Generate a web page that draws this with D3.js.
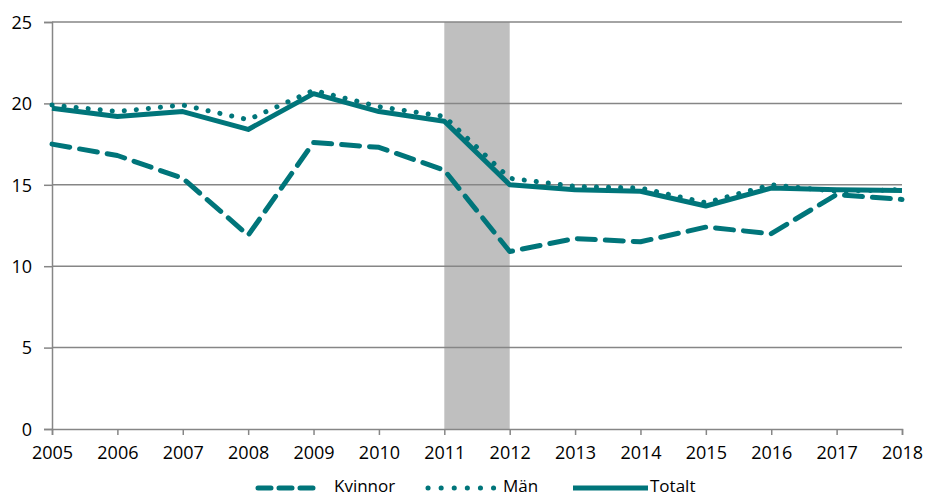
<!DOCTYPE html>
<html>
  <head>
    <script src="https://cdnjs.cloudflare.com/ajax/libs/d3/7.8.5/d3.min.js"></script>
    <meta charset="utf-8">
    <title>Kvinnor, Män, Totalt</title>
    <style>
      body { margin: 0; background: #fff; }
      text { font-family: "Open Sans", sans-serif; font-size: 17px; fill: #000; }
    </style>
  </head>
  <body>
    <script>
      var years = [2005, 2006, 2007, 2008, 2009, 2010, 2011, 2012, 2013, 2014, 2015, 2016, 2017, 2018];
      var kvinnor = [17.5, 16.8, 15.4, 11.9, 17.6, 17.3, 15.9, 10.9, 11.7, 11.5, 12.4, 12.0, 14.4, 14.1];
      var man = [19.9, 19.5, 19.9, 19.0, 20.8, 19.8, 19.2, 15.4, 14.9, 14.8, 13.9, 15.0, 14.6, 14.7];
      var totalt = [19.7, 19.2, 19.5, 18.4, 20.6, 19.5, 18.9, 15.0, 14.7, 14.6, 13.7, 14.8, 14.7, 14.65];
      var yTicks = [0, 5, 10, 15, 20, 25];
      var shaded = [2011, 2012];

      var color = "#00757a";
      var width = 926, height = 497;
      var svg = d3.select("body").append("svg")
                  .attr("width", width)
                  .attr("height", height);

      var x = d3.scaleLinear().domain([2005, 2018]).range([52, 902]);
      var y = d3.scaleLinear().domain([0, 25]).range([429, 22]);

      // recession band
      svg.append("rect")
         .attr("x", x(shaded[0]))
         .attr("y", y(25))
         .attr("width", x(shaded[1]) - x(shaded[0]))
         .attr("height", y(0) - y(25))
         .style("fill", "#bfbfbf");

      // grid
      svg.selectAll("line.grid")
         .data(yTicks.filter(function (d) { return d > 0; }))
         .enter().append("line")
         .attr("class", "grid")
         .attr("x1", x(2005)).attr("x2", x(2018))
         .attr("y1", function (d) { return y(d); })
         .attr("y2", function (d) { return y(d); })
         .style("stroke", "#868686").style("stroke-width", 1.5);

      // y axis
      var yAxis = d3.axisLeft(y).tickValues(yTicks).tickSize(8).tickPadding(12);
      var gy = svg.append("g").attr("transform", "translate(" + x(2005) + ",0)").call(yAxis);
      gy.select(".domain").style("stroke", "#868686").style("stroke-width", 1.5);
      gy.selectAll(".tick line").style("stroke", "#868686").style("stroke-width", 1.5);
      gy.selectAll("text").attr("dy", "0.35em").style("font-size", "18px").style("font-family", "Open Sans");

      // x axis
      var xAxis = d3.axisBottom(x).tickValues(years).tickFormat(d3.format("d")).tickSize(6).tickPadding(11);
      var gx = svg.append("g").attr("transform", "translate(0," + y(0) + ")").call(xAxis);
      gx.select(".domain").style("stroke", "#868686").style("stroke-width", 1.5);
      gx.selectAll(".tick line").style("stroke", "#868686").style("stroke-width", 1.5);
      gx.selectAll("text").style("font-size", "18px").style("font-family", "Open Sans");

      var series = [
        { name: "Kvinnor", values: kvinnor, dash: "18,10", cap: "round" },
        { name: "Män", values: man, dash: "0.1,12", cap: "round" },
        { name: "Totalt", values: totalt, dash: null, cap: "butt" }
      ];

      var line = d3.line()
                   .x(function (d, i) { return x(years[i]); })
                   .y(function (d) { return y(d); });

      series.forEach(function (s) {
        svg.append("path")
           .datum(s.values)
           .attr("d", line)
           .style("fill", "none")
           .style("stroke", color)
           .style("stroke-width", 5)
           .style("stroke-linecap", s.cap)
           .style("stroke-linejoin", "round")
           .style("stroke-dasharray", s.dash);
      });

      // legend
      var legendY = 486;
      var legend = [
        { name: "Kvinnor", x1: 258, x2: 318, tx: 334, dash: "13,8", cap: "round" },
        { name: "Män", x1: 428, x2: 494, tx: 503, dash: "0.1,13", cap: "round" },
        { name: "Totalt", x1: 573, x2: 648, tx: 650, dash: null, cap: "butt" }
      ];
      legend.forEach(function (l) {
        svg.append("line")
           .attr("x1", l.x1).attr("x2", l.x2)
           .attr("y1", legendY + 2).attr("y2", legendY + 2)
           .style("stroke", color)
           .style("stroke-width", 5)
           .style("stroke-linecap", l.cap)
           .style("stroke-dasharray", l.dash);
        svg.append("text")
           .attr("x", l.tx).attr("y", legendY)
           .attr("dy", "0.35em")
           .style("font-size", "17px")
           .text(l.name);
      });
    </script>
  </body>
</html>
